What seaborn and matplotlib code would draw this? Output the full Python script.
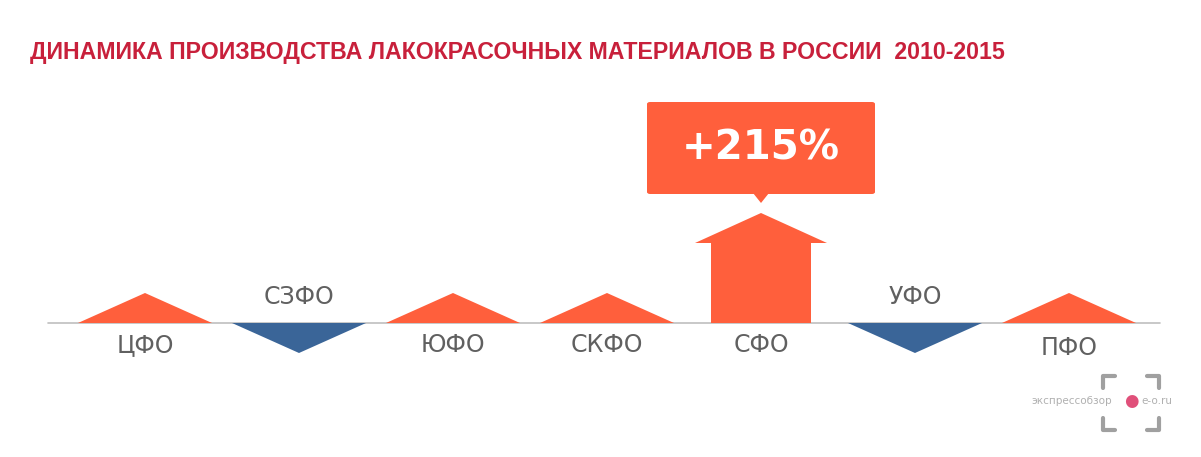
import matplotlib
matplotlib.use("Agg")
import matplotlib.pyplot as plt
import matplotlib.patches as mpatches
import seaborn as sns

regions = ["ЦФО", "СЗФО", "ЮФО", "СКФО", "СФО", "УФО", "ПФО"]
direction = [1, -1, 1, 1, 1, -1, 1]   # growth (+) or decline (-)
highlight = "СФО"
highlight_label = "+215%"
title = "ДИНАМИКА ПРОИЗВОДСТВА ЛАКОКРАСОЧНЫХ МАТЕРИАЛОВ В РОССИИ  2010-2015"

UP = "#FF5F3C"
DOWN = "#3A6598"
TEXT = "#606060"

sns.set_theme(style="white")
fig = plt.figure(figsize=(12.01, 4.57), dpi=100)
ax = fig.add_axes([0, 0, 1, 1])
# x in category units (154 px apart), y in pixels above the baseline
ax.set_xlim(-145 / 154, (1201 - 145) / 154)
ax.set_ylim(-134, 323)
ax.axis("off")

ax.plot([-97 / 154, (1160 - 145) / 154], [0, 0], color="#bfbfbf", lw=1.2, zorder=1)

half = 67 / 154
for i, (reg, d) in enumerate(zip(regions, direction)):
    if reg == highlight:
        ax.add_patch(mpatches.Polygon(
            [(i - 50 / 154, 0), (i - 50 / 154, 80), (i - 66 / 154, 80), (i, 110),
             (i + 66 / 154, 80), (i + 50 / 154, 80), (i + 50 / 154, 0)],
            closed=True, color=UP, lw=0, zorder=2))
        ax.add_patch(mpatches.FancyBboxPatch(
            (i - 114 / 154, 129), 228 / 154, 92,
            boxstyle="round,pad=0,rounding_size=0.02", mutation_aspect=100,
            color=UP, lw=0, zorder=2))
        ax.add_patch(mpatches.Polygon(
            [(i - 8 / 154, 130), (i, 120), (i + 8 / 154, 130)],
            closed=True, color=UP, lw=0, zorder=2))
        ax.text(i, 175, highlight_label, color="white", fontsize=29,
                fontweight="bold", ha="center", va="center", zorder=3)
        ax.text(i, -22, reg, color=TEXT, fontsize=17, ha="center", va="center")
        continue
    col = UP if d > 0 else DOWN
    ax.add_patch(mpatches.Polygon(
        [(i - half, 0), (i, 30 * d), (i + half, 0)],
        closed=True, color=col, lw=0, zorder=2))
    ytxt = -22 if d > 0 else 26
    if i == len(regions) - 1:
        ytxt = -25
    ax.text(i, ytxt, reg, color=TEXT, fontsize=17, ha="center", va="center")

fig.text(30 / 1201, 1 - 52 / 457, title, color="#C8203B", fontsize=16.7,
         fontweight="bold", family=["Liberation Sans", "DejaVu Sans"],
         ha="left", va="center")

# watermark
fig.text(1112 / 1201, 1 - 401 / 457, "экспрессобзор", color="#b0b0b0",
         fontsize=7.5, ha="right", va="center")
fig.text(1131 / 1201, 1 - 401 / 457, "●", color="#E0507A",
         fontsize=12, ha="center", va="center")
fig.text(1141 / 1201, 1 - 401 / 457, "e-o.ru", color="#b0b0b0",
         fontsize=7.5, ha="left", va="center")
for (x0, y0, dx, dy) in [(1103, 376, 1, 1), (1159, 376, -1, 1),
                         (1103, 430, 1, -1), (1159, 430, -1, -1)]:
    fig.lines.append(plt.Line2D([x0 / 1201, x0 / 1201, (x0 + 12 * dx) / 1201],
                                [1 - (y0 + 12 * dy) / 457, 1 - y0 / 457, 1 - y0 / 457],
                                transform=fig.transFigure, color="#a0a0a0", lw=3))

fig.savefig("out.png", dpi=100, facecolor="white")
